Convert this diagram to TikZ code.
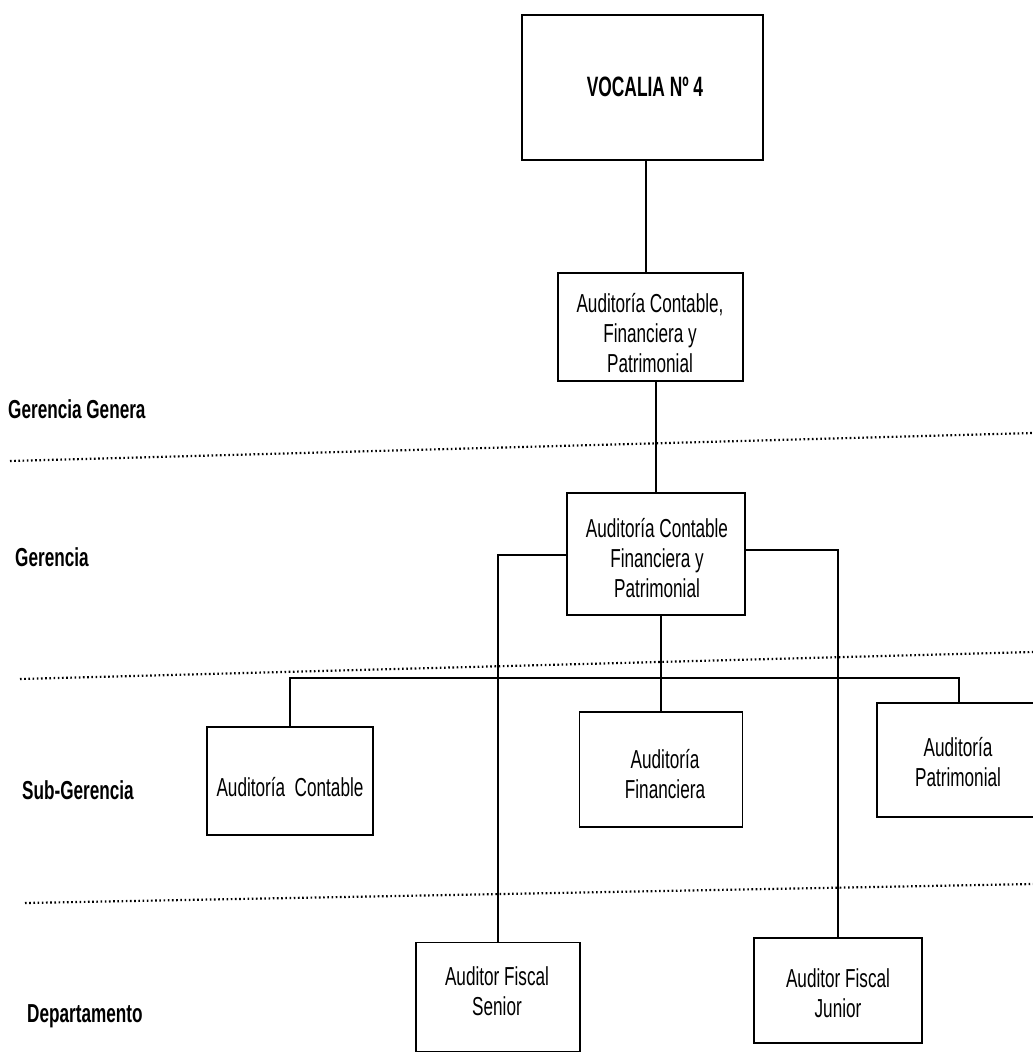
\documentclass[tikz,border=0pt]{standalone}
\usepackage{fontspec}
\setmainfont{Liberation Sans}[FakeStretch=0.66]
\newfontfamily\vocfont{Liberation Sans}[FakeStretch=0.62]
\begin{document}
\begin{tikzpicture}[x=1pt,y=-1pt,
  box/.style={draw, line width=1.7pt, inner sep=0pt},
  txt/.style={align=center, inner sep=0pt, font=\fontsize{26}{30}\selectfont},
  conn/.style={line width=1.7pt},
  level/.style={line width=2.2pt, dash pattern=on 1.6pt off 2.6pt},
  lab/.style={anchor=base west, inner sep=0pt, font=\fontsize{26}{30}\selectfont\bfseries}]
\fill[white] (0,0) rectangle (1033,1055);
\clip (0,0) rectangle (1033,1055);

% level separators (scan is slightly tilted)
\draw[level] (10,461) -- (1033,433);
\draw[level] (20,679) -- (1033,652);
\draw[level] (25,903) -- (1033,884);

% level labels
\node[lab] (lgg) at (8,418) {Gerencia Genera};
\node[lab] (lg)  at (15,566) {Gerencia};
\node[lab] (lsg) at (22,799) {Sub-Gerencia};
\node[lab] (ld)  at (27,1022) {Departamento};

% boxes
\node[box, minimum width=241pt, minimum height=145pt] (V) at (642.5,87.5) {};
\node[box, minimum width=185pt, minimum height=108pt] (A1) at (650.5,327) {};
\node[box, minimum width=178pt, minimum height=122pt] (A2) at (656,554) {};
\node[box, minimum width=166pt, minimum height=108pt] (C) at (290,781) {};
\node[box, minimum width=163pt, minimum height=115pt] (F) at (661,769.5) {};
\node[box, minimum width=164pt, minimum height=114pt] (P) at (959,760) {};
\node[box, minimum width=164pt, minimum height=109pt] (S) at (498,997) {};
\node[box, minimum width=168pt, minimum height=105pt] (J) at (838,990.5) {};

% box texts
\node[txt, font=\vocfont\fontsize{28}{32}\selectfont\bfseries] (Vt) at (645,87) {VOCALIA Nº 4};
\node[txt] (A1t) at (650,333) {Auditoría Contable,\\Financiera y\\Patrimonial};
\node[txt] (A2t) at (657,558) {Auditoría Contable\\Financiera y\\Patrimonial};
\node[txt] (Ct)  at (290,787) {Auditoría~ Contable};
\node[txt] (Ft)  at (665,774) {Auditoría\\Financiera};
\node[txt] (Pt)  at (958,762) {Auditoría\\Patrimonial};
\node[txt] (St)  at (497,991) {Auditor Fiscal\\Senior};
\node[txt] (Jt)  at (838,993) {Auditor Fiscal\\Junior};

% connectors
\coordinate (bus) at (0,678);
\coordinate (lft) at (0,555);
\coordinate (rgt) at (0,550);
\draw[conn] (V.south -| 646,0) -- (A1.north -| 646,0);
\draw[conn] (A1.south -| 656,0) -- (A2.north -| 656,0);
\draw[conn] (A2.west |- lft) -| (S.north);
\draw[conn] (A2.east |- rgt) -| (J.north);
\draw[conn] (F.north |- A2.south) -- (F.north);
\draw[conn] (C.north) -- (C.north |- bus) -- (P.north |- bus) -- (P.north);
\end{tikzpicture}
\end{document}
